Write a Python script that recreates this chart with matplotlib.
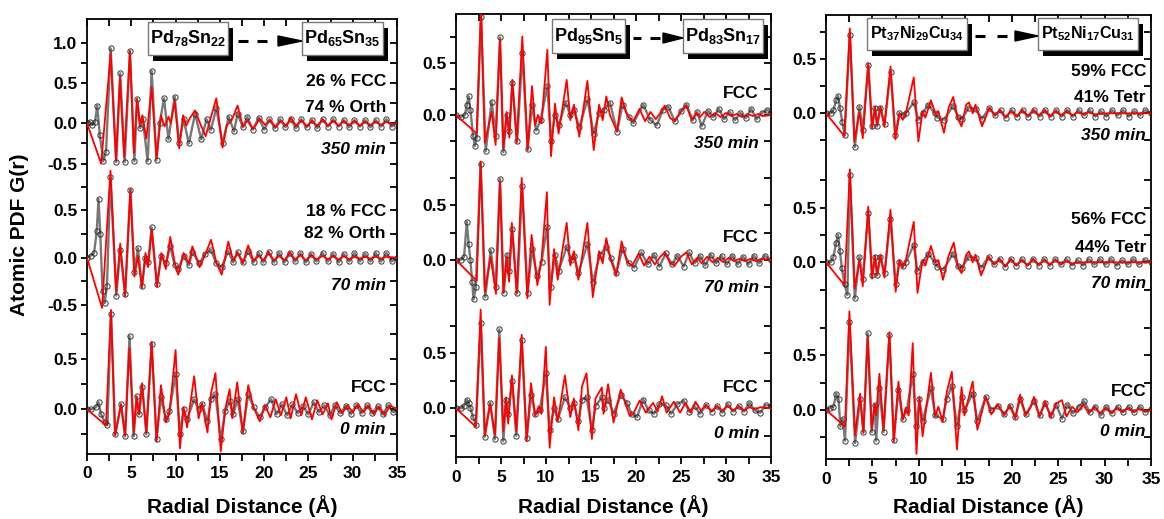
import matplotlib
matplotlib.use("Agg")
import matplotlib.pyplot as plt
from matplotlib.patches import Rectangle, Polygon
from matplotlib.lines import Line2D
from matplotlib.ticker import MultipleLocator

plt.rcParams['font.family'] = ['Liberation Sans', 'DejaVu Sans']
plt.rcParams['font.weight'] = 'bold'
plt.rcParams['mathtext.fontset'] = 'custom'
plt.rcParams['mathtext.rm'] = 'Liberation Sans:bold'
plt.rcParams['mathtext.it'] = 'Liberation Sans:bold:italic'
plt.rcParams['mathtext.bf'] = 'Liberation Sans:bold'

# ---------------------------------------------------------------- data
# Each series: (r in Angstrom, G(r)) at the turning points of the curve.

# Pd78Sn22 -> Pd65Sn35
pd1_350_fit = [(0, 0), (1.6, -0.50), (2.67, 0.87), (3.27, -0.46), (3.72, 0.56), (4.2, -0.42), (4.85, 0.89),
               (5.3, -0.37), (5.65, 0.30), (6.0, -0.02), (6.25, 0.10), (6.7, -0.19), (7.3, 0.45), (7.85, -0.43),
               (8.35, 0.10), (8.75, -0.04), (9.2, 0.08), (9.45, 0.0), (9.9, 0.27), (10.4, -0.31), (10.85, 0.10),
               (11.2, -0.03), (11.6, 0.06), (12.2, 0.16), (12.8, -0.01), (13.4, -0.16), (13.9, 0.04), (14.6, 0.31),
               (15.3, -0.30), (15.8, -0.02), (16.3, 0.03), (17.0, 0.22), (17.6, -0.04), (18.1, 0.03), (18.8, -0.07),
               (19.5, 0.06), (20.1, -0.02), (20.7, 0.04), (21.3, -0.05), (21.9, 0.03), (22.5, -0.03), (23.0, 0.07),
               (23.6, -0.03), (24.2, 0.04), (24.8, -0.04), (25.4, 0.03), (26.0, -0.03), (26.6, 0.05), (27.2, -0.03),
               (27.8, 0.03), (28.4, -0.03), (29.0, 0.03), (29.6, -0.02), (30.2, 0.03), (30.8, -0.03), (31.4, 0.02),
               (32.0, -0.02), (32.6, 0.02), (33.2, -0.02), (33.8, 0.02), (34.4, -0.01), (35.0, 0.0)]
pd1_350_exp = [(0, 0), (0.3, 0.02), (0.6, -0.02), (0.9, 0.01), (1.15, 0.22), (1.45, -0.15), (1.85, -0.47),
               (2.15, -0.35), (2.67, 0.93), (3.3, -0.48), (3.75, 0.62), (4.25, -0.48), (4.85, 0.90), (5.35, -0.47),
               (5.65, 0.30), (6.0, -0.06), (6.3, 0.05), (6.85, -0.47), (7.3, 0.65), (7.85, -0.46), (8.2, 0.0),
               (8.7, 0.31), (9.2, -0.2), (9.9, 0.33), (10.4, -0.25), (10.9, 0.05), (11.5, -0.25), (12.2, 0.12),
               (12.9, -0.2), (13.5, 0.05), (14.0, -0.08), (14.6, 0.19), (15.3, -0.25), (16.0, 0.08), (16.6, -0.10),
               (17.0, 0.12), (17.6, -0.05), (18.1, 0.08), (18.7, -0.08), (19.4, 0.07), (20.0, -0.08), (20.6, 0.05),
               (21.2, -0.06), (21.8, 0.05), (22.4, -0.05), (23.0, 0.05), (23.6, -0.06), (24.2, 0.05), (24.8, -0.05),
               (25.4, 0.04), (26.0, -0.06), (26.6, 0.05), (27.2, -0.04), (27.8, 0.05), (28.4, -0.04), (29.0, 0.04),
               (29.6, -0.05), (30.2, 0.04), (30.8, -0.04), (31.4, 0.04), (32.0, -0.05), (32.6, 0.04), (33.2, -0.04),
               (33.8, 0.05), (34.4, -0.04), (35.0, 0.01)]
pd1_70_fit = [(0, 0), (1.7, -0.53), (2.65, 0.92), (3.3, -0.36), (3.75, 0.15), (4.3, -0.41), (4.9, 0.72),
              (5.35, -0.20), (5.75, 0.02), (6.2, -0.32), (6.6, 0.05), (6.9, -0.10), (7.3, 0.30), (7.9, -0.31),
              (8.4, 0.05), (8.9, -0.12), (9.4, 0.22), (9.9, -0.05), (10.3, -0.18), (10.9, 0.05), (11.5, -0.06),
              (11.9, 0.12), (12.7, -0.10), (13.3, 0.02), (14.0, 0.19), (14.6, -0.05), (15.2, -0.18), (15.95, 0.17),
              (16.5, -0.03), (17.0, 0.05), (17.6, -0.06), (18.2, 0.13), (18.8, -0.03), (19.4, 0.02), (19.9, -0.03),
              (20.5, 0.06), (21.1, -0.03), (21.7, 0.02), (22.3, -0.03), (22.9, 0.06), (23.5, -0.02), (24.1, 0.03),
              (24.7, -0.03), (25.3, 0.03), (25.9, -0.02), (26.6, 0.02), (27.2, -0.02), (27.8, 0.02), (28.4, -0.02),
              (29.0, 0.02), (29.6, -0.02), (30.2, 0.01), (30.8, -0.01), (31.4, 0.01), (32.0, -0.01), (32.6, 0.01),
              (33.2, -0.01), (33.8, 0.01), (35.0, 0.0)]
pd1_70_exp = [(0, 0), (0.4, 0.02), (0.8, 0.05), (1.1, 0.28), (1.3, 0.62), (1.5, 0.25), (1.75, -0.35), (2.0, -0.48),
              (2.25, -0.30), (2.65, 0.85), (3.3, -0.40), (3.75, 0.08), (4.3, -0.38), (4.9, 0.72), (5.35, -0.15),
              (5.75, 0.10), (6.2, -0.30), (6.6, 0.0), (6.9, -0.05), (7.3, 0.32), (7.9, -0.28), (8.4, 0.02),
              (8.9, -0.06), (9.4, 0.12), (9.9, -0.08), (10.3, -0.12), (10.9, 0.02), (11.5, -0.08), (11.9, 0.06),
              (12.7, -0.06), (13.3, 0.04), (14.0, 0.08), (14.6, -0.06), (15.2, -0.10), (15.95, 0.07), (16.5, -0.05),
              (17.0, 0.06), (17.6, -0.05), (18.2, 0.07), (18.8, -0.05), (19.4, 0.05), (19.9, -0.05), (20.5, 0.06),
              (21.1, -0.05), (21.7, 0.05), (22.3, -0.05), (22.9, 0.05), (23.5, -0.04), (24.1, 0.05), (24.7, -0.05),
              (25.3, 0.04), (25.9, -0.04), (26.6, 0.05), (27.2, -0.04), (27.8, 0.04), (28.4, -0.05), (29.0, 0.04),
              (29.6, -0.04), (30.2, 0.05), (30.8, -0.04), (31.4, 0.04), (32.0, -0.04), (32.6, 0.05), (33.2, -0.04),
              (33.8, 0.05), (34.4, -0.04), (35.0, 0.0)]
pd1_0_fit = [(0, 0), (2.14, -0.16), (2.71, 0.99), (3.16, -0.26), (3.84, 0.05), (4.3, -0.26), (4.78, 0.61),
             (5.27, -0.23), (5.6, 0.12), (5.85, -0.05), (6.2, 0.26), (6.7, -0.23), (7.3, 0.67), (7.85, -0.32),
             (8.35, 0.24), (8.9, -0.13), (9.3, -0.05), (10.0, 0.59), (10.5, -0.39), (10.9, 0.02), (11.3, -0.18),
             (12.1, 0.33), (12.6, -0.09), (13.0, 0.06), (13.6, -0.23), (14.0, 0.16), (14.5, 0.36), (15.1, -0.42),
             (15.6, 0.0), (16.1, 0.20), (16.4, -0.09), (16.96, 0.27), (17.6, -0.24), (18.2, 0.24), (18.8, 0.02),
             (19.5, -0.12), (20.1, 0.04), (20.7, -0.08), (21.3, 0.10), (21.9, -0.06), (22.5, 0.12), (23.0, -0.09),
             (23.6, 0.15), (24.2, -0.06), (24.7, 0.12), (25.4, -0.10), (26.0, 0.09), (26.6, -0.05), (27.2, 0.06),
             (27.6, -0.10), (28.2, 0.07), (28.8, -0.04), (29.4, 0.04), (30.0, -0.03), (30.6, 0.05), (31.2, -0.03),
             (31.8, 0.04), (32.4, -0.05), (33.0, 0.03), (33.6, -0.06), (34.2, 0.04), (35.0, 0.0)]
pd1_0_exp = [(0, 0), (0.5, 0.0), (1.0, 0.02), (1.3, 0.07), (1.6, -0.05), (2.0, -0.13), (2.3, -0.16), (2.71, 0.95),
             (3.2, -0.25), (3.85, 0.05), (4.3, -0.27), (4.8, 0.73), (5.27, -0.27), (5.6, 0.13), (5.9, -0.05),
             (6.25, 0.22), (6.7, -0.25), (7.3, 0.65), (7.85, -0.30), (8.35, 0.12), (8.9, -0.10), (9.3, -0.02),
             (10.0, 0.35), (10.5, -0.25), (10.9, 0.0), (11.3, -0.10), (12.1, 0.10), (12.6, 0.0), (13.0, 0.05),
             (13.6, -0.12), (14.0, 0.10), (14.5, 0.15), (15.1, -0.30), (15.6, -0.02), (16.1, 0.08), (16.5, -0.05),
             (17.0, 0.10), (17.6, -0.22), (18.2, 0.15), (18.8, 0.02), (19.5, -0.08), (20.1, 0.02), (20.8, 0.10),
             (21.4, -0.05), (22.0, 0.05), (22.6, -0.06), (23.2, 0.05), (23.8, -0.04), (24.4, 0.03), (25.0, -0.05),
             (25.6, 0.07), (26.2, -0.03), (26.8, 0.04), (27.4, -0.06), (28.0, 0.04), (28.6, -0.04), (29.2, 0.03),
             (29.8, -0.05), (30.4, 0.04), (31.0, -0.04), (31.6, 0.04), (32.2, -0.04), (32.8, 0.03), (33.4, -0.05),
             (34.0, 0.04), (34.6, -0.03), (35.0, 0.0)]

# Pd95Sn5 -> Pd83Sn17
pd2_350_fit = [(0, 0), (2.3, -0.18), (2.78, 1.05), (3.2, -0.27), (3.96, 0.03), (4.4, -0.29), (4.89, 0.73),
               (5.26, -0.32), (5.63, 0.03), (5.93, -0.22), (6.26, 0.34), (6.74, -0.27), (7.37, 0.76), (7.96, -0.34),
               (8.45, 0.28), (8.8, -0.10), (9.1, 0.0), (9.5, -0.08), (10.15, 0.63), (10.56, -0.40), (11.0, 0.11),
               (11.4, -0.18), (12.3, 0.34), (12.7, -0.05), (13.1, 0.10), (13.7, -0.21), (14.6, 0.33), (15.3, -0.34),
               (15.9, 0.10), (16.3, -0.05), (16.7, 0.18), (17.1, 0.0), (17.9, -0.16), (18.4, 0.17), (19.0, 0.0),
               (19.7, -0.06), (20.4, 0.06), (21.0, -0.06), (21.6, 0.03), (22.2, -0.04), (22.7, 0.02), (23.2, 0.09),
               (23.8, -0.03), (24.3, -0.06), (25.0, 0.03), (25.6, 0.09), (26.2, -0.05), (26.7, 0.02), (27.1, -0.02),
               (27.6, 0.03), (28.2, -0.02), (28.8, 0.02), (29.4, -0.02), (30.0, 0.02), (30.6, -0.01), (31.2, 0.01),
               (31.8, -0.02), (32.4, 0.01), (33.0, -0.01), (33.6, 0.01), (34.2, -0.01), (35.0, 0.0)]
pd2_350_exp = [(0, 0), (0.5, -0.02), (1.0, 0.0), (1.2, 0.10), (1.4, 0.18), (1.6, 0.05), (1.9, -0.20), (2.1, -0.30),
               (2.3, -0.22), (2.78, 0.95), (3.3, -0.35), (3.96, 0.13), (4.4, -0.20), (4.89, 0.75), (5.26, -0.36),
               (5.63, 0.0), (5.93, -0.15), (6.26, 0.31), (6.8, -0.25), (7.37, 0.60), (7.96, -0.33), (8.45, 0.10),
               (8.9, -0.15), (9.4, -0.05), (10.15, 0.28), (10.56, -0.25), (11.0, 0.0), (11.4, -0.10), (12.2, 0.12),
               (12.7, 0.0), (13.1, 0.05), (13.7, -0.12), (14.6, 0.15), (15.3, -0.18), (15.9, 0.02), (16.4, 0.05),
               (17.1, 0.12), (17.9, -0.16), (18.5, 0.10), (19.2, -0.02), (19.7, -0.08), (20.8, 0.10), (21.6, -0.05),
               (22.3, -0.10), (23.0, 0.05), (23.6, 0.08), (24.3, -0.06), (25.0, 0.04), (25.6, 0.10), (26.3, -0.05),
               (26.8, 0.03), (27.3, -0.11), (28.0, 0.04), (28.6, -0.02), (29.2, 0.06), (29.8, -0.04), (30.4, 0.03),
               (31.0, -0.05), (31.6, 0.02), (32.2, -0.03), (32.8, 0.06), (33.4, -0.04), (34.0, 0.02), (34.6, 0.05),
               (35.0, 0.02)]
pd2_70_fit = [(0, 0), (2.3, -0.19), (2.74, 0.90), (3.2, -0.29), (3.85, 0.03), (4.44, -0.31), (4.89, 0.72),
              (5.26, -0.30), (5.6, 0.03), (5.9, -0.20), (6.2, 0.34), (6.74, -0.31), (7.3, 0.75), (7.93, -0.35),
              (8.4, 0.23), (8.8, -0.05), (9.04, -0.23), (9.5, 0.0), (10.1, 0.62), (10.4, -0.41), (10.9, 0.10),
              (11.3, -0.18), (12.3, 0.34), (12.7, -0.05), (13.1, 0.08), (13.6, -0.18), (14.6, 0.34), (15.2, -0.34),
              (15.9, 0.08), (16.3, -0.03), (16.7, 0.20), (17.2, 0.0), (17.8, -0.14), (18.4, 0.17), (19.0, -0.02),
              (19.6, -0.05), (20.3, 0.06), (20.9, -0.05), (21.5, 0.03), (22.1, -0.04), (22.7, 0.03), (23.2, 0.07),
              (23.8, -0.03), (24.3, -0.05), (25.0, 0.03), (25.6, 0.07), (26.2, -0.04), (26.8, 0.02), (27.3, -0.03),
              (27.9, 0.03), (28.5, -0.02), (29.1, 0.02), (29.7, -0.02), (30.3, 0.02), (30.9, -0.01), (31.5, 0.01),
              (32.1, -0.01), (32.7, 0.01), (33.3, -0.01), (33.9, 0.01), (35.0, 0.0)]
pd2_70_exp = [(0, 0), (0.5, 0.0), (0.9, 0.03), (1.2, 0.35), (1.4, 0.15), (1.6, 0.0), (1.8, -0.20), (1.95, -0.36),
              (2.2, -0.25), (2.74, 0.88), (3.25, -0.34), (3.85, 0.09), (4.4, -0.25), (4.89, 0.74), (5.3, -0.30),
              (5.7, 0.05), (5.9, -0.10), (6.25, 0.28), (6.8, -0.30), (7.35, 0.68), (7.95, -0.30), (8.45, 0.10),
              (9.0, -0.15), (9.5, -0.02), (10.1, 0.30), (10.5, -0.25), (11.0, 0.05), (11.4, -0.10), (12.3, 0.12),
              (12.8, 0.0), (13.1, 0.04), (13.6, -0.12), (14.6, 0.15), (15.2, -0.20), (16.0, 0.05), (16.7, 0.12),
              (17.2, 0.02), (17.8, -0.12), (18.5, 0.10), (19.2, -0.03), (19.8, -0.07), (20.6, 0.07), (21.3, -0.04),
              (22.0, 0.05), (22.6, -0.06), (23.3, 0.06), (24.0, -0.04), (24.6, 0.04), (25.3, -0.06), (25.9, 0.07),
              (26.5, -0.03), (27.1, 0.04), (27.7, -0.05), (28.3, 0.05), (28.9, -0.03), (29.5, 0.04), (30.1, -0.04),
              (30.7, 0.04), (31.3, -0.04), (31.9, 0.03), (32.5, -0.04), (33.1, 0.04), (33.7, -0.03), (34.3, 0.04),
              (35.0, 0.0)]
pd2_0_fit = [(0, 0), (2.22, -0.17), (2.74, 0.90), (3.2, -0.24), (3.78, 0.04), (4.33, -0.24), (4.81, 0.64),
             (5.26, -0.21), (5.56, 0.10), (5.8, -0.14), (6.22, 0.30), (6.7, -0.21), (7.3, 0.67), (7.85, -0.30),
             (8.33, 0.23), (8.8, -0.07), (9.2, 0.02), (9.5, -0.05), (9.98, 0.56), (10.4, -0.36), (10.9, 0.10),
             (11.3, -0.12), (12.1, 0.30), (12.7, -0.08), (13.1, 0.09), (13.6, -0.20), (14.0, 0.20), (14.5, 0.32),
             (15.1, -0.28), (15.5, 0.09), (16.2, 0.19), (16.4, -0.05), (16.9, 0.22), (17.5, -0.13), (18.3, 0.17),
             (19.3, -0.07), (19.7, -0.05), (20.4, 0.07), (21.1, -0.04), (21.9, 0.05), (22.4, -0.03), (22.9, 0.11),
             (23.4, -0.04), (24.2, 0.06), (24.9, -0.04), (25.5, 0.05), (26.1, -0.04), (26.6, 0.06), (27.2, -0.02),
             (27.8, 0.03), (28.4, -0.03), (29.0, 0.02), (29.6, -0.02), (30.2, 0.02), (30.8, -0.02), (31.4, 0.02),
             (32.0, -0.02), (32.6, 0.01), (33.2, -0.01), (33.8, 0.01), (35.0, 0.0)]
pd2_0_exp = [(0, 0), (0.5, 0.0), (0.9, 0.02), (1.2, 0.08), (1.4, 0.05), (1.6, 0.0), (1.9, -0.08), (2.2, -0.15),
             (2.74, 0.78), (3.2, -0.26), (3.8, 0.05), (4.33, -0.28), (4.81, 0.72), (5.26, -0.30), (5.56, 0.08),
             (5.8, -0.05), (6.22, 0.25), (6.7, -0.25), (7.3, 0.62), (7.85, -0.27), (8.33, 0.12), (8.8, -0.05),
             (9.3, -0.02), (9.98, 0.32), (10.4, -0.20), (10.9, 0.0), (11.3, -0.10), (12.1, 0.10), (12.7, 0.0),
             (13.1, 0.05), (13.6, -0.12), (14.0, 0.08), (14.5, 0.10), (15.1, -0.20), (15.5, 0.02), (16.2, 0.10),
             (16.4, 0.0), (16.9, 0.08), (17.5, -0.05), (18.3, 0.12), (19.0, 0.05), (19.5, -0.05), (20.1, -0.08),
             (20.8, 0.08), (21.4, -0.02), (22.0, -0.05), (22.6, 0.04), (23.3, 0.03), (23.9, -0.05), (24.6, 0.04),
             (25.3, 0.07), (25.9, -0.03), (26.5, 0.02), (27.1, -0.05), (27.8, 0.03), (28.4, -0.03), (29.0, 0.02),
             (29.6, -0.04), (30.2, 0.04), (30.8, -0.03), (31.4, 0.02), (32.0, -0.03), (32.6, 0.05), (33.2, -0.02),
             (33.8, -0.04), (34.4, 0.03), (35.0, 0.02)]

# Pt37Ni29Cu34 -> Pt52Ni17Cu31
pt_350_fit = [(0, 0), (1.98, -0.21), (2.57, 0.78), (3.05, -0.26), (3.6, 0.01), (3.96, -0.23), (4.55, 0.46),
              (4.96, -0.14), (5.28, 0.06), (5.5, -0.11), (5.86, 0.06), (6.29, -0.12), (6.95, 0.43), (7.47, -0.24),
              (7.9, 0.0), (8.26, -0.06), (8.6, 0.0), (9.45, 0.33), (9.95, -0.26), (10.4, 0.02), (10.7, -0.04),
              (11.3, 0.12), (11.8, -0.01), (12.1, 0.02), (12.7, -0.18), (13.2, 0.05), (13.7, 0.15), (14.2, -0.05),
              (14.6, -0.12), (15.1, 0.08), (15.4, 0.10), (15.8, 0.0), (16.1, 0.08), (16.8, -0.12), (17.6, 0.05),
              (18.2, -0.02), (18.7, 0.03), (19.3, -0.04), (19.9, 0.02), (20.5, -0.03), (21.1, 0.03), (21.7, -0.03),
              (22.3, 0.03), (22.9, -0.02), (23.5, 0.03), (24.1, -0.03), (24.7, 0.02), (25.3, -0.02), (25.9, 0.02),
              (26.5, -0.02), (27.1, 0.01), (27.7, -0.01), (28.3, 0.01), (29.0, -0.01), (30.0, 0.0), (35.0, 0.0)]
pt_350_exp = [(0, 0), (0.5, 0.0), (0.8, 0.03), (1.1, 0.12), (1.3, 0.16), (1.5, 0.05), (1.75, -0.08), (2.0, -0.20),
              (2.57, 0.72), (3.1, -0.31), (3.6, 0.06), (3.96, -0.15), (4.55, 0.44), (4.96, -0.12), (5.3, 0.05),
              (5.5, -0.12), (5.86, 0.05), (6.3, -0.10), (6.95, 0.38), (7.47, -0.20), (7.9, 0.0), (8.3, -0.02),
              (8.6, 0.0), (9.45, 0.10), (9.95, -0.06), (10.4, 0.0), (11.0, 0.08), (11.7, 0.0), (12.0, -0.04),
              (12.7, -0.06), (13.7, 0.07), (14.2, -0.03), (14.6, -0.05), (15.4, 0.05), (16.1, 0.04), (16.8, -0.05),
              (17.6, 0.05), (18.2, -0.02), (18.8, 0.03), (19.4, -0.04), (20.0, 0.03), (20.6, -0.03), (21.2, 0.03),
              (21.8, -0.03), (22.4, 0.03), (23.0, -0.03), (23.6, 0.03), (24.2, -0.03), (24.8, 0.03), (25.4, -0.03),
              (26.0, 0.03), (26.6, -0.03), (27.2, 0.03), (27.8, -0.02), (28.4, 0.03), (29.0, -0.03), (29.6, 0.02),
              (30.2, -0.03), (30.8, 0.03), (31.4, -0.02), (32.0, 0.03), (32.6, -0.03), (33.2, 0.02), (33.8, -0.02),
              (34.4, 0.03), (35.0, 0.0)]
pt_70_fit = [(0, 0), (2.0, -0.21), (2.57, 0.85), (3.1, -0.24), (3.6, 0.02), (3.96, -0.22), (4.55, 0.51),
             (4.96, -0.15), (5.28, 0.06), (5.5, -0.12), (5.86, 0.07), (6.29, -0.14), (6.94, 0.48), (7.5, -0.27),
             (7.9, 0.02), (8.26, -0.05), (8.6, 0.02), (9.45, 0.37), (9.85, -0.28), (10.4, 0.02), (10.7, -0.03),
             (11.3, 0.15), (11.8, 0.0), (12.1, 0.02), (12.6, -0.16), (13.2, 0.06), (13.76, 0.18), (14.2, -0.04),
             (14.6, -0.10), (15.1, 0.07), (15.4, 0.10), (15.8, 0.0), (16.1, 0.07), (16.7, -0.12), (17.5, 0.05),
             (18.1, -0.02), (18.7, 0.03), (19.3, -0.04), (19.9, 0.03), (20.5, -0.03), (21.1, 0.02), (21.7, -0.03),
             (22.3, 0.03), (22.9, -0.02), (23.5, 0.02), (24.1, -0.02), (24.7, 0.02), (25.3, -0.02), (25.9, 0.01),
             (26.5, -0.01), (27.5, 0.0), (35.0, 0.0)]
pt_70_exp = [(0, 0), (0.5, 0.0), (0.8, 0.05), (1.1, 0.18), (1.3, 0.25), (1.5, 0.10), (1.7, -0.05), (2.0, -0.20),
             (2.3, -0.30), (2.57, 0.80), (3.1, -0.33), (3.6, 0.05), (3.96, -0.15), (4.55, 0.45), (4.96, -0.12),
             (5.3, 0.05), (5.5, -0.12), (5.86, 0.05), (6.3, -0.10), (6.94, 0.40), (7.5, -0.20), (7.9, 0.0),
             (8.3, -0.03), (8.6, 0.0), (9.45, 0.16), (9.85, -0.08), (10.4, 0.0), (11.0, 0.08), (11.7, 0.0),
             (12.0, -0.04), (12.6, -0.07), (13.7, 0.08), (14.2, -0.03), (14.6, -0.05), (15.4, 0.05), (16.1, 0.04),
             (16.7, -0.05), (17.5, 0.05), (18.1, -0.02), (18.7, 0.03), (19.3, -0.04), (19.9, 0.03), (20.5, -0.03),
             (21.1, 0.03), (21.7, -0.03), (22.3, 0.03), (22.9, -0.03), (23.5, 0.03), (24.1, -0.03), (24.7, 0.03),
             (25.3, -0.02), (25.9, 0.03), (26.5, -0.03), (27.1, 0.02), (27.7, -0.03), (28.3, 0.03), (28.9, -0.02),
             (29.5, 0.03), (30.1, -0.02), (30.7, 0.03), (31.3, -0.03), (31.9, 0.02), (32.5, -0.02), (33.1, 0.03),
             (33.7, -0.02), (34.3, 0.02), (35.0, 0.0)]
pt_0_fit = [(0, 0), (2.05, -0.15), (2.52, 0.90), (3.13, -0.23), (3.67, 0.15), (4.03, -0.21), (4.49, 0.66),
            (4.92, -0.17), (5.25, 0.05), (5.4, -0.05), (5.75, 0.33), (6.2, -0.18), (6.83, 0.71), (7.3, -0.29),
            (7.8, 0.26), (8.26, -0.09), (8.6, 0.02), (8.9, -0.05), (9.34, 0.61), (9.74, -0.40), (10.06, 0.12),
            (10.4, -0.24), (11.3, 0.34), (11.75, -0.06), (12.1, 0.03), (12.57, -0.11), (13.0, 0.16), (13.55, 0.35),
            (14.1, -0.36), (14.6, 0.21), (14.9, -0.05), (15.8, 0.26), (16.3, -0.18), (17.2, 0.12), (17.8, -0.04),
            (18.5, 0.05), (19.2, -0.05), (19.8, 0.04), (20.4, -0.08), (20.9, 0.14), (21.5, -0.05), (22.0, 0.02),
            (22.4, 0.12), (23.0, -0.06), (23.6, 0.08), (24.2, -0.07), (24.8, 0.06), (25.4, 0.09), (25.9, -0.06),
            (26.5, 0.03), (27.1, -0.02), (27.7, 0.05), (28.3, -0.03), (28.9, 0.03), (29.5, -0.03), (30.1, 0.02),
            (30.7, -0.03), (31.3, 0.02), (31.9, -0.02), (32.5, 0.02), (33.1, -0.02), (33.7, 0.01), (34.3, -0.01),
            (35.0, 0.0)]
pt_0_exp = [(0, 0), (0.4, 0.02), (0.8, 0.03), (1.1, 0.15), (1.35, 0.10), (1.55, -0.15), (1.8, -0.08),
            (2.05, -0.28), (2.52, 0.80), (3.13, -0.30), (3.67, 0.10), (4.03, -0.20), (4.49, 0.70), (4.92, -0.20),
            (5.25, 0.05), (5.4, -0.28), (5.75, 0.20), (6.2, -0.20), (6.83, 0.68), (7.3, -0.27), (7.8, 0.18),
            (8.26, -0.08), (8.7, 0.0), (9.34, 0.33), (9.74, -0.15), (10.06, 0.10), (10.4, -0.10), (11.3, 0.20),
            (11.75, -0.05), (12.57, -0.08), (13.0, 0.10), (13.55, 0.22), (14.1, -0.15), (14.6, 0.12), (14.9, 0.0),
            (15.8, 0.15), (16.3, -0.10), (17.2, 0.12), (17.8, 0.0), (18.5, 0.04), (19.2, -0.04), (19.8, 0.04),
            (20.4, -0.06), (20.9, 0.10), (21.5, -0.04), (22.4, 0.08), (23.0, -0.05), (23.6, 0.06), (24.2, -0.05),
            (24.8, 0.05), (25.4, -0.08), (26.0, 0.05), (26.6, -0.03), (27.2, 0.03), (27.8, 0.08), (28.4, -0.02),
            (29.0, 0.03), (29.6, -0.05), (30.2, 0.03), (30.8, -0.03), (31.4, 0.03), (32.0, -0.02), (32.6, 0.03),
            (33.2, -0.02), (33.8, 0.03), (34.4, -0.02), (35.0, 0.01)]

compositions = [(r'$\mathrm{Pd_{78}Sn_{22}}$', r'$\mathrm{Pd_{65}Sn_{35}}$'),
                (r'$\mathrm{Pd_{95}Sn_{5}}$', r'$\mathrm{Pd_{83}Sn_{17}}$'),
                (r'$\mathrm{Pt_{37}Ni_{29}Cu_{34}}$', r'$\mathrm{Pt_{52}Ni_{17}Cu_{31}}$')]
times = ['350 min', '70 min', '0 min']
phase_labels = [[['26 % FCC', '74 % Orth'], ['18 % FCC', '82 % Orth'], ['FCC']],
                [['FCC'], ['FCC'], ['FCC']],
                [['59% FCC', '41% Tetr'], ['56% FCC', '44% Tetr'], ['FCC']]]
series = [[(pd1_350_exp, pd1_350_fit), (pd1_70_exp, pd1_70_fit), (pd1_0_exp, pd1_0_fit)],
          [(pd2_350_exp, pd2_350_fit), (pd2_70_exp, pd2_70_fit), (pd2_0_exp, pd2_0_fit)],
          [(pt_350_exp, pt_350_fit), (pt_70_exp, pt_70_fit), (pt_0_exp, pt_0_fit)]]

# ---------------------------------------------------------------- layout (pixels)
W, H = 1164, 519
fig = plt.figure(figsize=(W / 100, H / 100), dpi=100)


def fx(px):
    return px / W


def fy(py):
    return 1 - py / H


frames = [(87, 397, 19, 454), (456, 771, 14, 457), (826, 1151, 15, 459)]
# baseline pixel row, pixels per unit of G, tick values for each stacked curve
layers = [[(123.3, 80.6, [-0.5, -0.25, 0, 0.25, 0.5, 0.75, 1.0]),
           (257.7, 94.6, [-0.5, -0.25, 0, 0.25, 0.5, 0.75]),
           (409.3, 100.4, [-0.25, 0, 0.25, 0.5, 0.75])],
          [(115.0, 103.4, [-0.25, 0, 0.25, 0.5, 0.75]),
           (260.0, 109.4, [-0.25, 0, 0.25, 0.5, 0.75]),
           (408.3, 109.7, [-0.25, 0, 0.25, 0.5, 0.75])],
          [(113.3, 108.7, [-0.25, 0, 0.25, 0.5, 0.75]),
           (262.3, 109.3, [-0.25, 0, 0.25, 0.5, 0.75]),
           (410.0, 109.6, [-0.25, 0, 0.25, 0.5, 0.75])]]
text_right = [386, 759, 1146]
phase_rows = [[[82, 107], [212, 233], [388]],
              [[93], [238], [387]],
              [[72, 97], [220, 247], [391]]]
time_rows = [[150, 285, 430], [144, 288, 433], [136, 284, 431]]
boxes = [((148, 228), (302, 383), 22, 55, [(238, 248), (257, 267)], (278, 302), 41),
         ((552, 625), (683, 763), 19, 53, [(633, 641), (650, 660)], (663, 683), 38),
         ((867, 967), (1038, 1138), 18, 50, [(975, 985), (997, 1007)], (1015, 1038), 36)]
box_fontsize = [13, 13, 11.5]

LW = 1.3


def tick_label(v):
    if abs(v * 2 - round(v * 2)) < 1e-9:
        return '0.0' if abs(v) < 1e-9 else f'{v:.1f}'
    return ''


for p, (L, R, T, B) in enumerate(frames):
    rect = [fx(L), fy(B), (R - L) / W, (B - T) / H]
    fr = fig.add_axes(rect)
    fr.set_xlim(0, 35)
    fr.set_ylim(0, 1)
    fr.set_yticks([])
    fr.xaxis.set_major_locator(MultipleLocator(5))
    fr.xaxis.set_minor_locator(MultipleLocator(2.5))
    fr.tick_params(axis='x', which='both', direction='out', length=5, width=LW, labelsize=12.5, pad=4)
    for sp in fr.spines.values():
        sp.set_linewidth(LW)
    top = fr.secondary_xaxis('top')
    top.xaxis.set_major_locator(MultipleLocator(2.5))
    top.tick_params(direction='in', length=5, width=LW, labeltop=False)
    top.spines['top'].set_visible(False)

    for k, (base, scale, ticks) in enumerate(layers[p]):
        ax = fig.add_axes(rect)
        ax.set_xlim(0, 35)
        ax.set_ylim((base - B) / scale, (base - T) / scale)
        ax.patch.set_alpha(0)
        for sp in ax.spines.values():
            sp.set_visible(False)
        ax.tick_params(axis='x', bottom=False, labelbottom=False)
        ax.set_yticks(ticks)
        ax.set_yticklabels([tick_label(t) for t in ticks])
        ax.tick_params(axis='y', direction='out', length=4, width=LW, labelsize=12.5, pad=3)
        sec = ax.secondary_yaxis('right')
        sec.set_yticks(ticks)
        sec.tick_params(direction='in', length=5, width=LW, labelright=False)
        sec.spines['right'].set_visible(False)

        exp, fit = series[p][k]
        er, eg = zip(*exp)
        ax.plot(er, eg, color='#1e1e1e', lw=1.7, alpha=0.6, zorder=2)
        ax.plot(er, eg, ls='none', marker='o', ms=3.8, mfc='none', mec='#222222', mew=0.75, alpha=0.85, zorder=3)
        fr_r, fr_g = zip(*fit)
        ax.plot(fr_r, fr_g, color='red', lw=1.3, zorder=4)

        for txt, row in zip(phase_labels[p][k], phase_rows[p][k]):
            fig.text(fx(text_right[p]), fy(row), txt, ha='right', va='center', fontsize=12.5, fontweight='bold')
        fig.text(fx(text_right[p]), fy(time_rows[p][k]), times[k], ha='right', va='center', fontsize=12.5,
                 fontweight='bold', fontstyle='italic')

    fig.text(fx((L + R) / 2), fy(506), 'Radial Distance (Å)', ha='center', va='center', fontsize=15,
             fontweight='bold')

    # composition boxes with drop shadow and dashed arrow
    (a0, a1), (b0, b1), y0, y1, dashes, head, ya = boxes[p]
    for (x0, x1), label in zip([(a0, a1), (b0, b1)], compositions[p]):
        fig.add_artist(Rectangle((fx(x0 + 5), fy(y1 + 6)), (x1 - x0) / W, (y1 - y0) / H,
                                 transform=fig.transFigure, facecolor='black', edgecolor='none'))
        fig.add_artist(Rectangle((fx(x0), fy(y1)), (x1 - x0) / W, (y1 - y0) / H,
                                 transform=fig.transFigure, facecolor='white', edgecolor='#777777', lw=1.0))
        fig.text(fx((x0 + x1) / 2), fy((y0 + y1) / 2), label, ha='center', va='center',
                 fontsize=box_fontsize[p])
    for d0, d1 in dashes:
        fig.add_artist(Line2D([fx(d0), fx(d1)], [fy(ya), fy(ya)], transform=fig.transFigure,
                              color='black', lw=2.2, solid_capstyle='butt'))
    fig.add_artist(Polygon([(fx(head[0]), fy(ya - 5)), (fx(head[0]), fy(ya + 5)), (fx(head[1]), fy(ya))],
                           closed=True, transform=fig.transFigure, facecolor='black', edgecolor='black'))

fig.text(fx(20), fy(235), 'Atomic PDF G(r)', rotation=90, ha='center', va='center', fontsize=15,
         fontweight='bold')

fig.savefig('out.png', dpi=100)
